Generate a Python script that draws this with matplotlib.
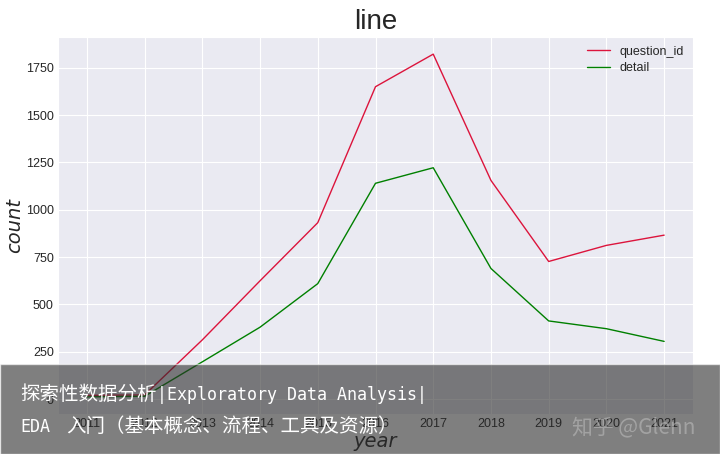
import matplotlib
matplotlib.use("Agg")
import matplotlib.pyplot as plt
import seaborn as sns
from matplotlib.patches import Rectangle

years = [2011, 2012, 2013, 2014, 2015, 2016, 2017, 2018, 2019, 2020, 2021]
question_id = [20, 22, 313, 625, 932, 1650, 1822, 1155, 727, 812, 866]
detail = [12, 15, 197, 380, 610, 1140, 1222, 690, 413, 372, 305]

sns.set_style("darkgrid")
plt.rcParams['font.family'] = ['Liberation Sans', 'DejaVu Sans']

fig = plt.figure(figsize=(7.2, 4.54), dpi=100)
ax = fig.add_axes([58/720, 1-414/454, (693-58)/720, (414-37)/454])
ax.plot(years, question_id, color='crimson', lw=1.0, label='question_id')
ax.plot(years, detail, color='green', lw=1.0, label='detail')
ax.set_xticks(years)
ax.tick_params(labelsize=9, colors='.15', length=0, pad=3)
ax.set_title('line', fontsize=20, color='.15', pad=6)
ax.set_ylabel('count', fontsize=14, style='italic', family='DejaVu Sans', color='.15', labelpad=1)
ax.set_xlabel('year', fontsize=14, style='italic', family='DejaVu Sans', color='.15', labelpad=1)
leg = ax.legend(loc='upper right', fontsize=9, frameon=False, handlelength=1.8,
                handletextpad=0.8, labelspacing=0.35, borderaxespad=0.3)

# overlay banner
mono = ['DejaVu Sans Mono', 'Noto Sans CJK SC']
cjk = ['Noto Sans CJK SC', 'DejaVu Sans']
fig.patches.append(Rectangle((0, 0), 1, 1-364/454, transform=fig.transFigure,
                             facecolor='#2a2a2a', alpha=0.6, zorder=10))
fig.text(20/720, 1-400/454, '探索性数据分析', color='white',
         fontsize=14, family=cjk, va='baseline', zorder=11)
fig.text(157/720, 1-400/454, '|Exploratory Data Analysis|', color='white',
         fontsize=12, family=mono, va='baseline', zorder=11)
fig.text(20/720, 1-432/454, 'EDA', color='white',
         fontsize=12, family=mono, va='baseline', zorder=11)
fig.text(66/720, 1-432/454, '入门（基本概念、流程、工具及资源）', color='white',
         fontsize=14, family=cjk, va='baseline', zorder=11)
fig.text(572/720, 1-433/454, '知乎 @Glenn', color='#bbbbbb', alpha=0.6,
         fontsize=15, family=cjk, va='baseline', zorder=11)

fig.savefig('out.png', dpi=100)
